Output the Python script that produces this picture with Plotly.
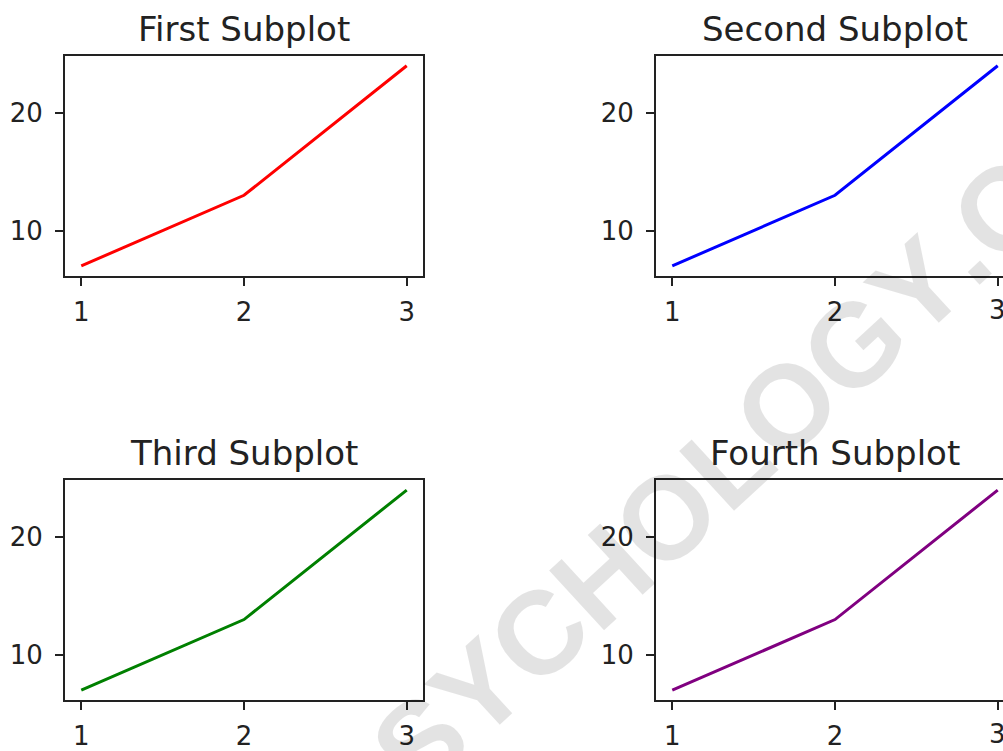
import math
import plotly.graph_objects as go

# data shared by the four panels
x_vals = [1, 2, 3]
y_vals = [7, 13, 24]
panel_titles = ["First Subplot", "Second Subplot", "Third Subplot", "Fourth Subplot"]
line_colors = ["red", "blue", "green", "purple"]
x_ticks = [1, 2, 3]
y_ticks = [10, 20]
watermark_text = "PSYCHOLOGY.COM"

W, H = 1003, 751
TXT = "#222222"
FONT = "DejaVu Sans"
TICK_SIZE = 26

# panel boxes in pixels: (left, right, top, bottom); right column runs past the page edge
col_px = [(65, 423), (656, 1014)]
row_px = [(56, 277), (482, 703)]


def px_x(v):
    return v / W


def px_y(v):
    return 1 - v / H


# matplotlib-like 5% margins
x_lo, x_hi = min(x_vals), max(x_vals)
y_lo, y_hi = min(y_vals), max(y_vals)
xm = 0.05 * (x_hi - x_lo)
ym = 0.05 * (y_hi - y_lo)
x_range = [x_lo - xm, x_hi + xm]
y_range = [y_lo - ym, y_hi + ym]

fig = go.Figure()
annotations = []

# translucent diagonal watermark, laid out letter by letter
wm_size = 118
wm_spacing = 0
wm_angle = 42.6
glyph_w = {"P": 0.667, "S": 0.667, "Y": 0.667, "C": 0.722, "H": 0.722, "O": 0.778,
           "L": 0.611, "G": 0.778, ".": 0.278, "M": 0.833}
anchor_x, anchor_y = 478, 692        # centre of the first "Y"
dx, dy = math.cos(math.radians(wm_angle)), -math.sin(math.radians(wm_angle))

offsets = []
pos = 0.0
for ch in watermark_text:
    w = glyph_w[ch] * wm_size
    offsets.append(pos + w / 2)
    pos += w + wm_spacing
ref = offsets[watermark_text.index("Y")]

for k, ch in enumerate(watermark_text):
    d = offsets[k] - ref
    cx = anchor_x + dx * d
    cy = anchor_y + dy * d
    annotations.append(dict(
        text="<b>" + ch + "</b>", xref="paper", yref="paper",
        x=px_x(cx), y=px_y(cy), xanchor="center", yanchor="middle",
        textangle=-wm_angle, showarrow=False,
        font=dict(family="Liberation Sans", size=wm_size, color="rgba(0,0,0,0.11)"),
    ))

for i in range(4):
    r, c = divmod(i, 2)
    left, right = col_px[c]
    top, bottom = row_px[r]
    n = "" if i == 0 else str(i + 1)

    vis_right = min(right, W)
    frac = (vis_right - left) / (right - left)
    xr = [x_range[0], x_range[0] + (x_range[1] - x_range[0]) * frac]
    clipped = vis_right < right

    fig.add_trace(go.Scatter(
        x=x_vals, y=y_vals, mode="lines",
        line=dict(color=line_colors[i], width=3),
        xaxis="x" + n, yaxis="y" + n, showlegend=False, hoverinfo="skip",
    ))

    fig.layout["xaxis" + n] = dict(
        domain=[px_x(left), px_x(vis_right)], anchor="y" + n, range=xr,
        tickvals=x_ticks, ticks="outside", ticklen=8, tickwidth=2, tickcolor=TXT,
        showgrid=False, zeroline=False, showline=True, linecolor=TXT, linewidth=2,
        mirror=True, tickfont=dict(family=FONT, size=TICK_SIZE, color=TXT),
        ticklabelstandoff=4, fixedrange=True,
    )
    fig.layout["yaxis" + n] = dict(
        domain=[px_y(bottom), px_y(top)], anchor="x" + n, range=y_range,
        tickvals=y_ticks, ticks="outside", ticklen=8, tickwidth=2, tickcolor=TXT,
        showgrid=False, zeroline=False, showline=True, linecolor=TXT, linewidth=2,
        mirror=not clipped, tickfont=dict(family=FONT, size=TICK_SIZE, color=TXT),
        ticklabelstandoff=7, fixedrange=True,
    )

    # the last x label of a clipped panel runs off the page edge; plotly drops
    # such labels, so draw it as text anchored to the axis value instead
    if clipped:
        for t in x_ticks:
            if t == x_ticks[-1]:
                annotations.append(dict(
                    text=str(t), xref="x" + n, yref="y" + n, x=t, y=y_range[0],
                    xanchor="center", yanchor="middle", yshift=-34, showarrow=False,
                    font=dict(family=FONT, size=TICK_SIZE, color=TXT),
                ))

    annotations.append(dict(
        text=panel_titles[i], xref="paper", yref="paper",
        x=px_x((left + right) / 2), y=px_y(top), xanchor="center", yanchor="bottom",
        yshift=5, showarrow=False, font=dict(family=FONT, size=34, color=TXT),
    ))

fig.update_layout(
    width=W, height=H, margin=dict(l=0, r=0, t=0, b=0),
    paper_bgcolor="white", plot_bgcolor="white",
    annotations=annotations,
)

fig.write_html("out.html", config={"displayModeBar": False})
